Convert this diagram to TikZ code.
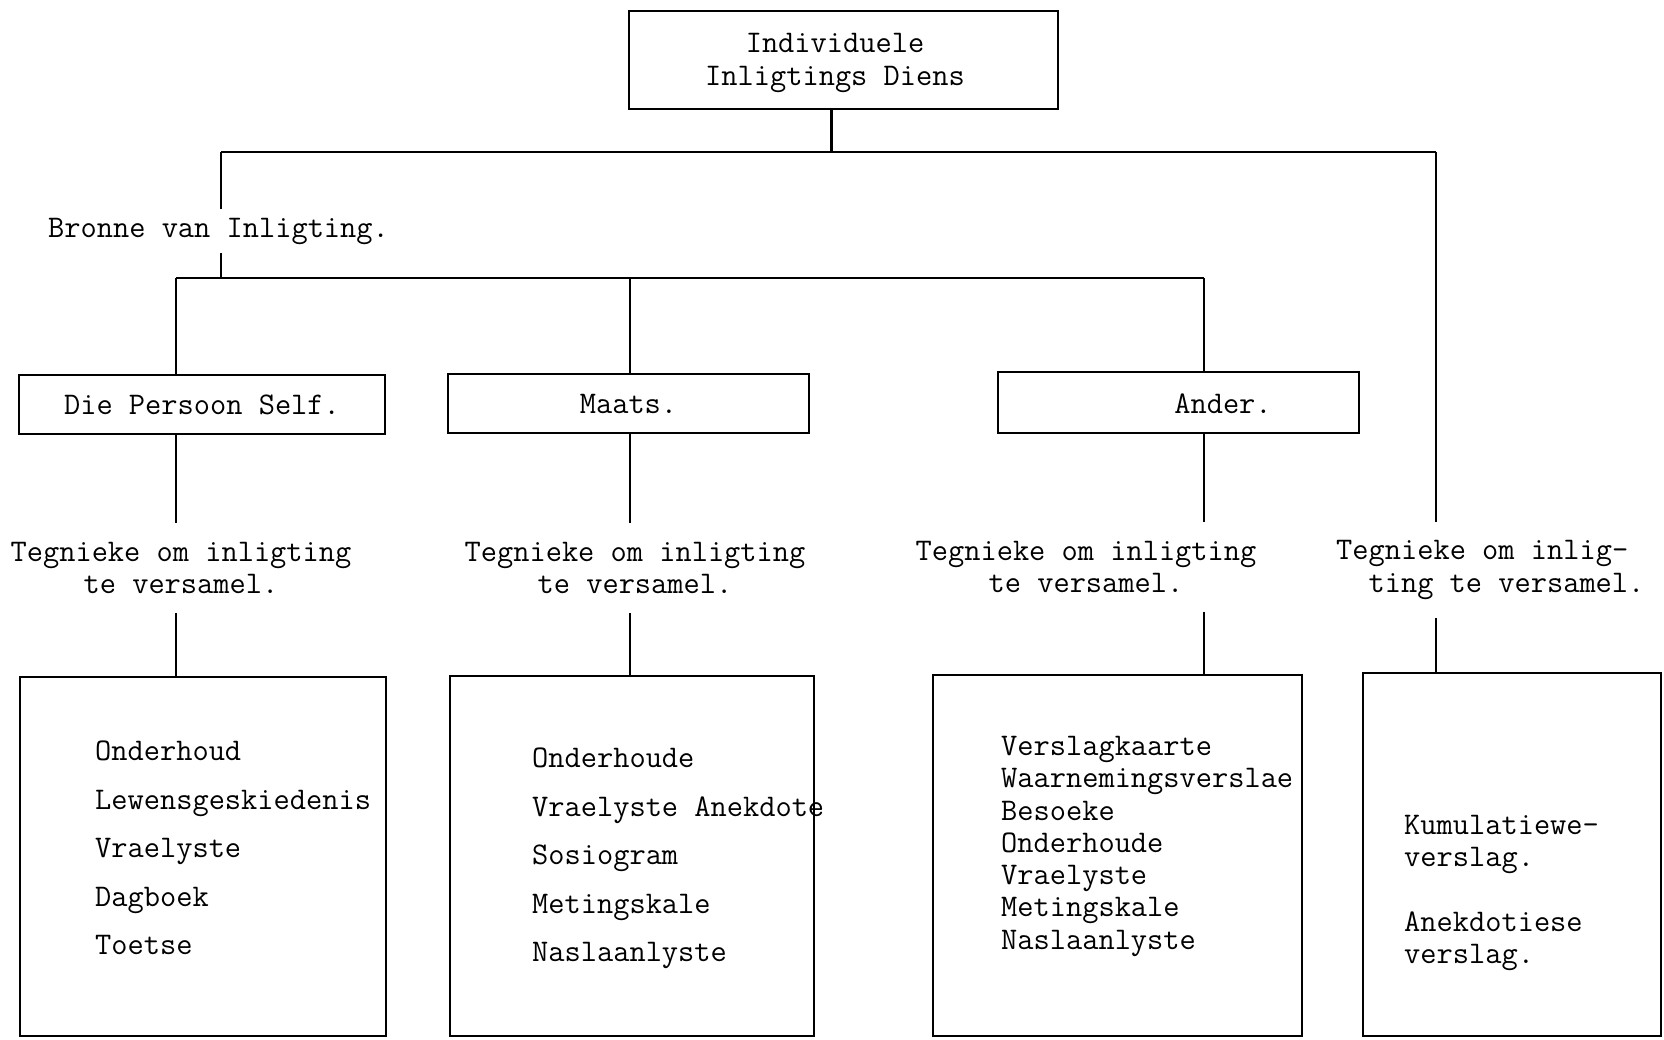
\documentclass[tikz,border=0pt]{standalone}
\usepackage{fontspec}
\usepackage{tikz}

\newcommand{\tikfont}[1]{\fontsize{31.5}{#1}\selectfont\ttfamily\addfontfeatures{FakeBold=1.2}}

\begin{document}
\begin{tikzpicture}[x=1pt, y=-1pt,
    every node/.style={font=\tikfont{32.3}, inner sep=3pt},
    kas/.style={draw, line width=2.8pt, inner sep=0pt},
    lyn/.style={line width=2.2pt},
    tegniek/.style={align=center, outer ysep=16pt},
    lys/.style={anchor=north west, align=left, inner sep=0pt}]
    \useasboundingbox (0,0) rectangle (1664,1039);

    % boonste blok
    \node[kas, minimum width=429pt, minimum height=98pt] (diens) at (843.5,60) {};
    \node[align=center] (diensteks) at (835,63) {Individuele\\Inligtings Diens};

    % eerste vertakking
    \coordinate (stam) at ([xshift=-12pt]diens.south);
    \coordinate (tak1L) at (221,152);
    \coordinate (tak1R) at (1436,152);
    \draw[lyn] (stam) -- (stam |- tak1L);
    \draw[lyn] (tak1L) -- (tak1R);

    % bronne van inligting
    \node[anchor=west, outer ysep=6pt] (bronne) at (45,231) {Bronne van Inligting.};
    \coordinate (tak2L) at (176,278);
    \coordinate (tak2M) at (630,278);
    \coordinate (tak2R) at (1204,278);
    \draw[lyn] (tak1L) -- (tak1L |- bronne.north);
    \draw[lyn] (tak1L |- bronne.south) -- (tak1L |- tak2L);
    \draw[lyn] (tak2L) -- (tak2R);

    \node[kas, minimum width=366pt, minimum height=59pt] (persoon) at (202,404.5) {Die Persoon Self.};
    \node[kas, minimum width=361pt, minimum height=59pt] (maats) at (628.5,403.5) {Maats.};
    \node[kas, minimum width=361pt, minimum height=61pt] (ander) at (1178.5,402.5) {};
    \node (anderteks) at (1223,404) {Ander.};

    \draw[lyn] (tak2L) -- (tak2L |- persoon.north);
    \draw[lyn] (tak2M) -- (tak2M |- maats.north);
    \draw[lyn] (tak2R) -- (tak2R |- ander.north);

    % tegnieke
    \node[tegniek] (tegniek1) at (181,568) {Tegnieke om inligting\\te versamel.};
    \node[tegniek] (tegniek2) at (635,568) {Tegnieke om inligting\\te versamel.};
    \node[tegniek] (tegniek3) at (1086,567) {Tegnieke om inligting\\te versamel.};
    \node[tegniek, align=left, anchor=west] (tegniek4) at (1333,570) {Tegnieke om inlig-\\\hphantom{Te}ting te versamel.};

    \draw[lyn] (persoon.south -| tak2L) -- (tak2L |- tegniek1.north);
    \draw[lyn] (maats.south -| tak2M) -- (tak2M |- tegniek2.north);
    \draw[lyn] (ander.south -| tak2R) -- (tak2R |- tegniek3.north);
    \draw[lyn] (tak1R) -- (tak1R |- tegniek4.north);

    % lyste
    \node[kas, minimum width=366pt, minimum height=359pt] (lys1) at (203,856.5) {};
    \node[kas, minimum width=364pt, minimum height=360pt] (lys2) at (632,856) {};
    \node[kas, minimum width=369pt, minimum height=361pt] (lys3) at (1117.5,855.5) {};
    \node[kas, minimum width=298pt, minimum height=363pt] (lys4) at (1512,854.5) {};

    \draw[lyn] (tak2L |- tegniek1.south) -- (tak2L |- lys1.north);
    \draw[lyn] (tak2M |- tegniek2.south) -- (tak2M |- lys2.north);
    \draw[lyn] (tak2R |- tegniek3.south) -- (tak2R |- lys3.north);
    \draw[lyn] (tak1R |- tegniek4.south) -- (tak1R |- lys4.north);

    \node[lys, font=\tikfont{48.5}] (teks1) at (95,741) {Onderhoud\\Lewensgeskiedenis\\Vraelyste\\Dagboek\\Toetse};
    \node[lys, font=\tikfont{48.5}] (teks2) at (532,748) {Onderhoude\\Vraelyste Anekdote\\Sosiogram\\Metingskale\\Naslaanlyste};
    \node[lys] (teks3) at (1001,736) {Verslagkaarte\\Waarnemingsverslae\\Besoeke\\Onderhoude\\Vraelyste\\Metingskale\\Naslaanlyste};
    \node[lys] (teks4) at (1404,815) {Kumulatiewe-\\verslag.\\[32pt]Anekdotiese\\verslag.};
\end{tikzpicture}
\end{document}
